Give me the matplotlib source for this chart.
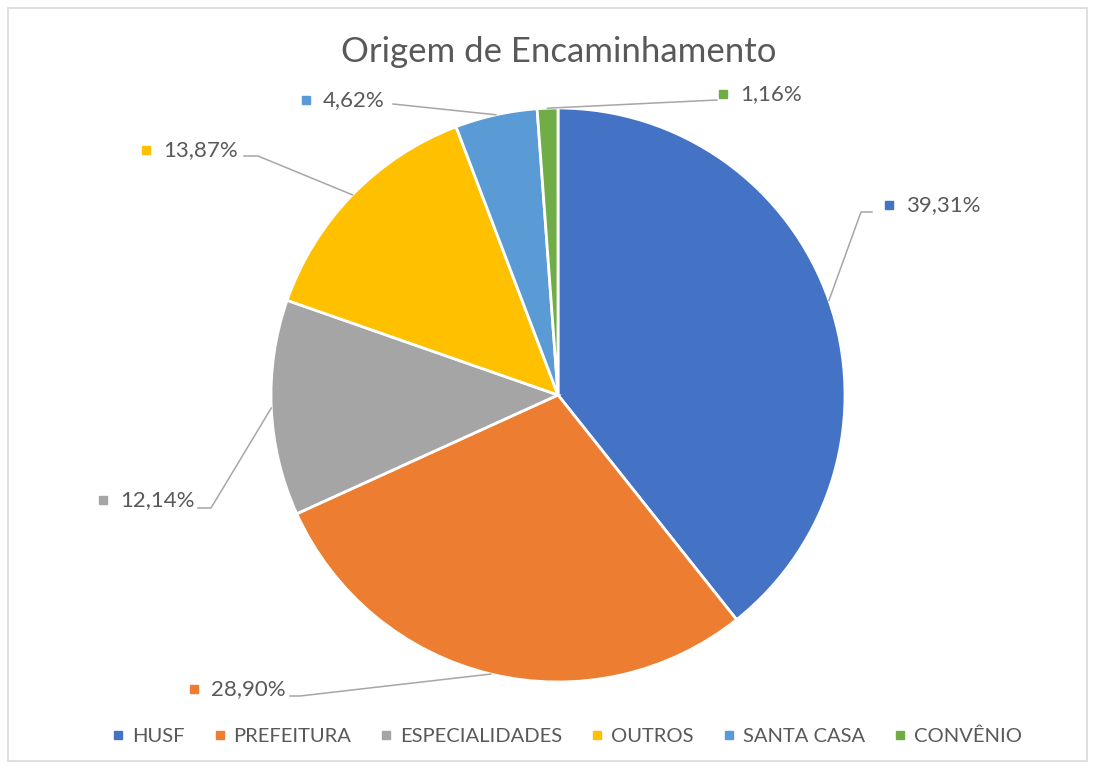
import matplotlib
matplotlib.use("Agg")
import matplotlib.pyplot as plt
from matplotlib.lines import Line2D
from matplotlib.patches import Rectangle
import numpy as np

categories = ["HUSF", "PREFEITURA", "ESPECIALIDADES", "OUTROS", "SANTA CASA", "CONVÊNIO"]
values = [39.31, 28.90, 12.14, 13.87, 4.62, 1.16]
colors = ["#4472C4", "#ED7D31", "#A5A5A5", "#FFC000", "#5B9BD5", "#70AD47"]
title = "Origem de Encaminhamento"

FONT = "Lato"
TXT = "#595959"
W, H = 1095, 769
CX, CY, R = 558, 395, 287

fig = plt.figure(figsize=(W / 100, H / 100), dpi=100)
fig.patch.set_facecolor("white")
fig.patches.append(Rectangle((8 / W, 8 / H), (W - 16) / W, (H - 16) / H,
                             transform=fig.transFigure, fill=False,
                             edgecolor="#d9d9d9", linewidth=1.2))

ax = fig.add_axes([(CX - R) / W, (H - CY - R) / H, 2 * R / W, 2 * R / H])

wedges, _ = ax.pie(values, colors=colors, startangle=90, counterclock=False,
                   radius=1, wedgeprops=dict(edgecolor="white", linewidth=2))
ax.set_xlim(-1, 1)
ax.set_ylim(-1, 1)
ax.axis("off")


def d(px, py):
    return ((px - CX) / R, (CY - py) / R)


# label layout in pixel coords: (square x, y center), leader elbow points
label_pos = [(889, 205), (194, 689), (103, 500), (146, 150), (306, 100), (723, 94)]
leaders = [
    [(872, 212), (861, 212)],
    [(290, 696), (300, 696)],
    [(198, 508), (211, 508)],
    [(244, 156), (258, 156)],
    [(393, 104)],
    [(717, 100)],
]

for w, v, c, (lx, ly), pts in zip(wedges, values, colors, label_pos, leaders):
    ang = np.deg2rad((w.theta1 + w.theta2) / 2)
    ex, ey = np.cos(ang), np.sin(ang)
    xs = [d(*p)[0] for p in pts] + [ex]
    ys = [d(*p)[1] for p in pts] + [ey]
    ax.plot(xs, ys, color="#a6a6a6", linewidth=1.1, clip_on=False, zorder=1)
    mx, my = d(lx, ly)
    ax.plot([mx], [my], marker="s", markersize=6, color=c, linestyle="",
            clip_on=False)
    tx, ty = d(lx + 17, ly)
    ax.text(tx, ty, f"{v:.2f}".replace(".", ",") + "%", fontsize=16,
            family=FONT, color=TXT, ha="left", va="center", clip_on=False)

fig.text(559 / W, 1 - 52 / H, title, ha="center", va="center",
         fontsize=25, family=FONT, color=TXT)

handles = [Line2D([], [], marker="s", linestyle="", color=c, markersize=6)
           for c in colors]
fig.legend(handles, categories, loc="center", bbox_to_anchor=(565 / W, 1 - 736 / H),
           ncol=6, frameon=False, handletextpad=0.2, columnspacing=1.23,
           handlelength=1.0, prop=dict(family=FONT, size=14.5), labelcolor=TXT)

fig.savefig("out.png", dpi=100, facecolor="white")
